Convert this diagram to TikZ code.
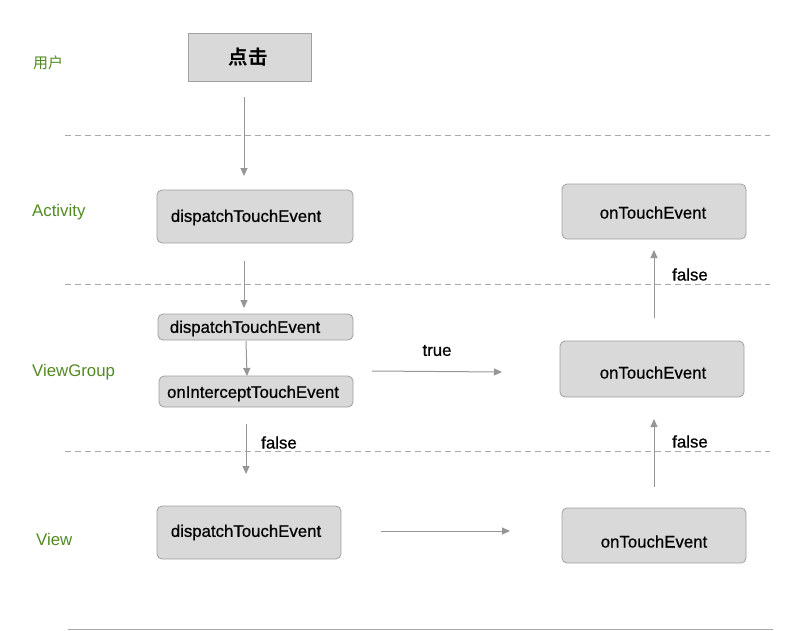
\documentclass[tikz,border=0pt]{standalone}
\usepackage{fontspec}
\setmainfont{Liberation Sans}
\newfontfamily\medfont{Liberation Sans}[FakeBold=0.6]
\newfontfamily\cjk{Noto Sans CJK SC}[BoldFont={Noto Sans CJK SC Bold}]
\usetikzlibrary{arrows.meta}
\definecolor{lblgreen}{RGB}{82,138,32}
\definecolor{boxfill}{RGB}{217,217,217}
\definecolor{boxline}{RGB}{160,160,160}
\definecolor{arrowgray}{RGB}{150,150,150}
\definecolor{dashgray}{RGB}{170,170,170}
\tikzset{
  lane/.style={text=lblgreen, font=\fontsize{16.8}{19}\selectfont, anchor=west, inner sep=0pt, yshift=-1.5pt},
  boxr/.style={draw=boxline, fill=boxfill, rounded corners=5pt, line width=0.8pt, inner sep=0pt},
  boxs/.style={draw=boxline, fill=boxfill, line width=1pt, inner sep=0pt},
  txt/.style={font=\medfont\fontsize{16.8}{19}\selectfont, inner sep=0pt, yshift=-1.5pt},
  flow/.style={draw=arrowgray, line width=1pt, -{Triangle[length=8pt,width=7pt]}},
  sep/.style={draw=dashgray, line width=0.8pt, dash pattern=on 6pt off 4pt},
}
\begin{document}
\begin{tikzpicture}[x=1pt,y=-1pt]
\useasboundingbox (0,0) rectangle (785,630);
% lane labels
\node[lane, text=lblgreen, font=\cjk\fontsize{15}{16}\selectfont] (lu) at (33,61) {用户};
\node[lane] (la) at (32,211) {Activity};
\node[lane] (lvg) at (32,371) {ViewGroup};
\node[lane] (lv) at (36,538) {View};
% separators
\coordinate (s1a) at (65,135); \coordinate (s1b) at (770,135);
\coordinate (s2a) at (65,284); \coordinate (s2b) at (770,284);
\coordinate (s3a) at (65,451); \coordinate (s3b) at (770,451);
\coordinate (s4a) at (68,629); \coordinate (s4b) at (773,629);
\draw[sep] (s1a) -- (s1b);
\draw[sep] (s2a) -- (s2b);
\draw[sep] (s3a) -- (s3b);
\draw[draw=dashgray, line width=1pt] (s4a) -- (s4b);
% boxes
\node[boxs, minimum width=123pt, minimum height=48pt] (click) at (249.5,57) {};
\node[font=\cjk\bfseries\fontsize{19.5}{21}\selectfont, inner sep=0pt] (clickt) at (248,57) {点击};
\node[boxr, minimum width=196pt, minimum height=53pt] (adisp) at (255,216.5) {};
\node[txt] (adispt) at (246,216) {dispatchTouchEvent};
\node[boxr, minimum width=184pt, minimum height=55pt] (aon) at (654,211.5) {};
\node[txt] (aont) at (653,211) {onTouchEvent};
\node[boxr, minimum width=195pt, minimum height=26pt] (vgdisp) at (255.5,327) {};
\node[txt] (vgdispt) at (245,327) {dispatchTouchEvent};
\node[boxr, minimum width=194pt, minimum height=31pt] (vgint) at (256,391.5) {};
\node[txt] (vgintt) at (253,392) {onInterceptTouchEvent};
\node[boxr, minimum width=184pt, minimum height=56pt] (vgon) at (652,369) {};
\node[txt] (vgont) at (653,371) {onTouchEvent};
\node[boxr, minimum width=184pt, minimum height=53pt] (vdisp) at (249,532.5) {};
\node[txt] (vdispt) at (246,531) {dispatchTouchEvent};
\node[boxr, minimum width=184pt, minimum height=55pt] (von) at (654,535.5) {};
\node[txt] (vont) at (654,540) {onTouchEvent};
% arrow endpoints
\coordinate (a1s) at (244,97);  \coordinate (a1e) at (244,176);
\coordinate (a2s) at (244,261); \coordinate (a2e) at (244,308);
\coordinate (a3s) at (246,341); \coordinate (a3e) at (247,376);
\coordinate (a4s) at (246,424); \coordinate (a4e) at (246,474);
\coordinate (a5s) at (381,531); \coordinate (a5e) at (510,531);
\coordinate (a6s) at (654,487); \coordinate (a6e) at (654,419);
\coordinate (a7s) at (372,371); \coordinate (a7e) at (502,372);
\coordinate (a8s) at (654,318); \coordinate (a8e) at (654,250);
\draw[flow] (a1s) -- (a1e);
\draw[flow] (a2s) -- (a2e);
\draw[flow] (a3s) -- (a3e);
\draw[flow] (a4s) -- (a4e);
\draw[flow] (a5s) -- (a5e);
\draw[flow] (a6s) -- (a6e);
\draw[flow] (a7s) -- (a7e);
\draw[flow] (a8s) -- (a8e);
% labels
\node[txt] (f1) at (279,441) {false};
\node[txt] (f2) at (690,440) {false};
\node[txt] (f3) at (690,273) {false};
\node[txt] (t1) at (437,349) {true};
\end{tikzpicture}
\end{document}
